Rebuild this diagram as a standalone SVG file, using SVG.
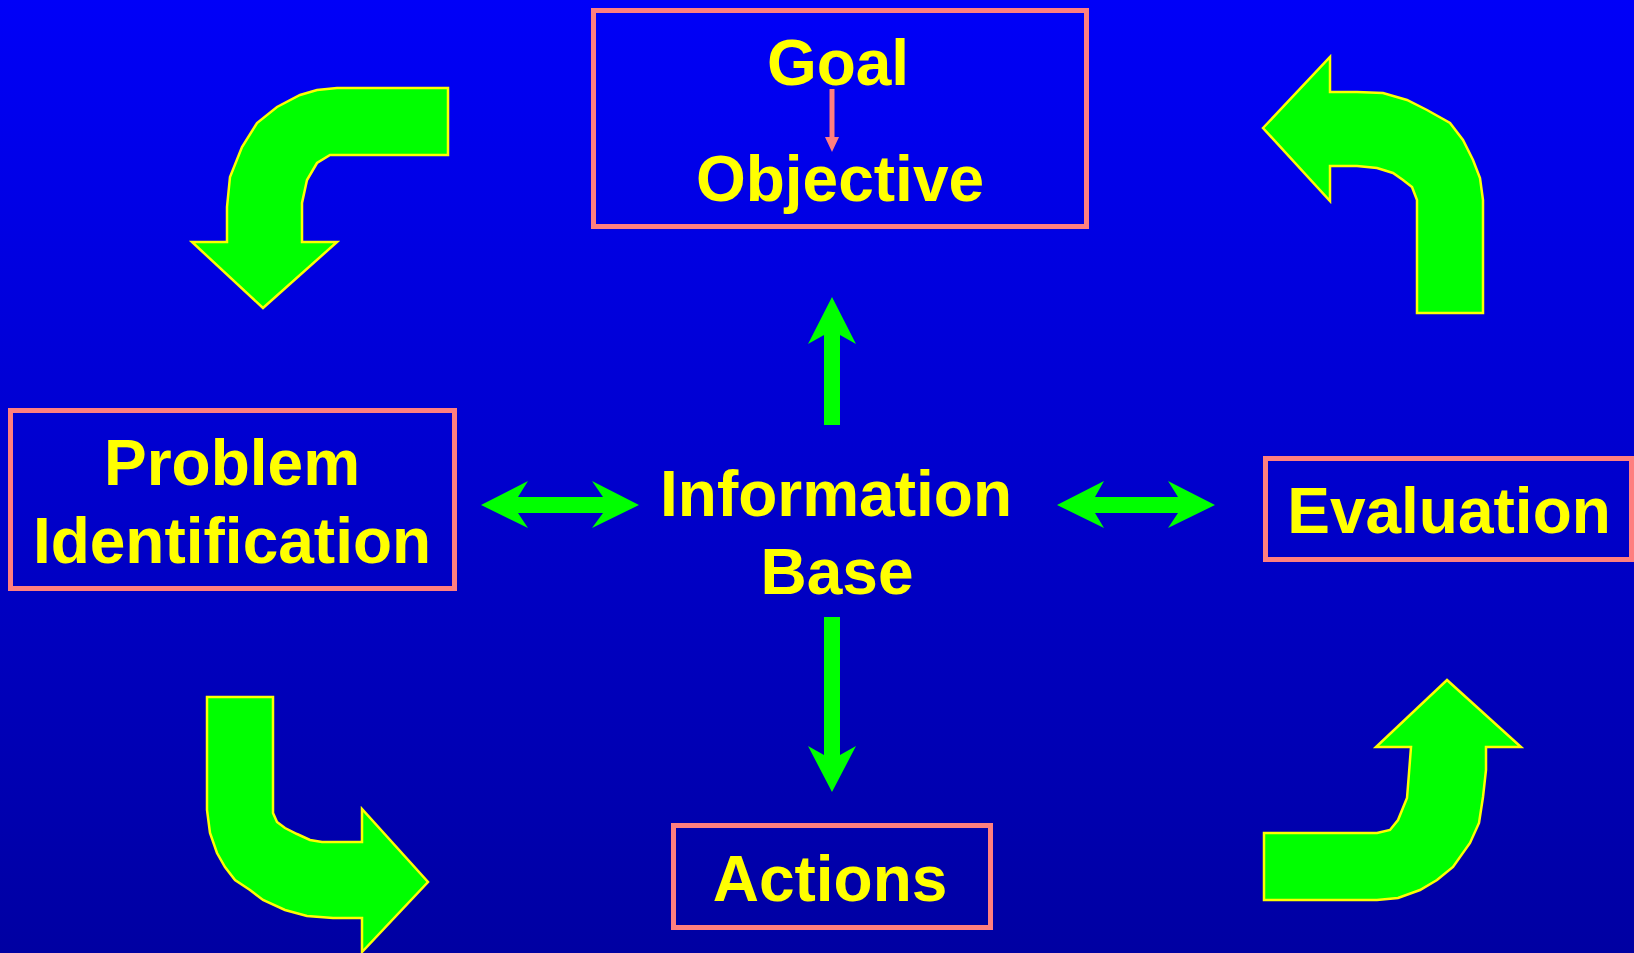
<svg xmlns="http://www.w3.org/2000/svg" width="1634" height="953" viewBox="0 0 1634 953">
<defs>
<linearGradient id="bg" x1="0" y1="0" x2="0" y2="1">
<stop offset="0" stop-color="#0000F8"/>
<stop offset="1" stop-color="#0000A2"/>
</linearGradient>
<style>
.box{fill:none;stroke:#FF7F7F;stroke-width:5}
.t{font-family:"Liberation Sans",Arial,sans-serif;font-weight:bold;font-size:64px;fill:#FFFF00;text-anchor:middle}
.cv{fill:#00FF00;stroke:#FFFF00;stroke-width:2.5;stroke-linejoin:miter}
.st{fill:#00FF00}
</style>
</defs>
<rect width="1634" height="953" fill="url(#bg)"/>

<g id="goal">
<rect class="box" x="593.5" y="10.5" width="493" height="216"/>
<text class="t" x="838" y="85">Goal</text>
<line x1="832" y1="89" x2="832" y2="140" stroke="#FF7F7F" stroke-width="5"/>
<polygon points="825,137 839,137 832,152" fill="#FF7F7F"/>
<text class="t" x="840" y="201">Objective</text>
</g>

<g id="problem">
<rect class="box" x="10.5" y="410.5" width="444" height="178"/>
<text class="t" x="232" y="485">Problem</text>
<text class="t" x="232" y="563">Identification</text>
</g>

<g id="info">
<text class="t" x="836" y="516">Information</text>
<text class="t" x="837" y="594">Base</text>
</g>

<g id="evaluation">
<rect class="box" x="1265.5" y="458.5" width="366" height="101"/>
<text class="t" x="1449" y="533">Evaluation</text>
</g>

<g id="actions">
<rect class="box" x="673.5" y="825.5" width="317" height="102"/>
<text class="t" x="830" y="901">Actions</text>
</g>

<g id="connectors">
<!-- up arrow -->
<polygon class="st" points="832,297 856,344 840,335 840,425 824,425 824,335 808,344"/>
<!-- down arrow -->
<polygon class="st" points="832,792 856,746 840,755 840,617 824,617 824,755 808,746"/>
<!-- left double arrow -->
<polygon class="st" points="481,505 528,481 518,497 603,497 592,481 639,505 592,528 603,513 518,513 528,528"/>
<!-- right double arrow -->
<polygon class="st" points="1057,505 1104,481 1095,497 1178,497 1168,481 1215,505 1168,528 1178,513 1095,513 1104,528"/>

<!-- top-left curved arrow -->
<path class="cv" d="M448,88 L448,155 L330,155 L317,163 L307,180 L302,203 L302,242 L337,242 L263,308 L192,242 L227,242 L227,207 L230,177 L242,147 L257,123 L277,107 L300,95 L317,90 L337,88 Z"/>
<!-- top-right curved arrow -->
<path class="cv" d="M1263,128 L1330,57 L1330,92 L1357,92 L1383,93 L1407,100 L1427,110 L1450,123 L1463,140 L1473,160 L1480,178 L1483,200 L1483,313 L1417,313 L1417,200 L1412,187 L1403,180 L1393,173 L1377,168 L1357,166 L1330,166 L1330,201 Z"/>
<!-- bottom-left curved arrow -->
<path class="cv" d="M207,697 L273,697 L273,813 L277,822 L285,828 L297,834 L310,840 L322,842 L362,842 L362,809 L428,882 L362,952 L362,918 L333,918 L307,916 L285,910 L263,900 L250,890 L235,880 L225,867 L217,853 L210,833 L207,810 Z"/>
<!-- bottom-right curved arrow -->
<path class="cv" d="M1447,680 L1521,747 L1486,747 L1486,770 L1483,797 L1479,823 L1470,843 L1453,867 L1437,880 L1420,890 L1398,898 L1377,900 L1264,900 L1264,833 L1377,833 L1390,830 L1398,820 L1407,798 L1409,773 L1411,747 L1376,747 Z"/>
</g>
</svg>
